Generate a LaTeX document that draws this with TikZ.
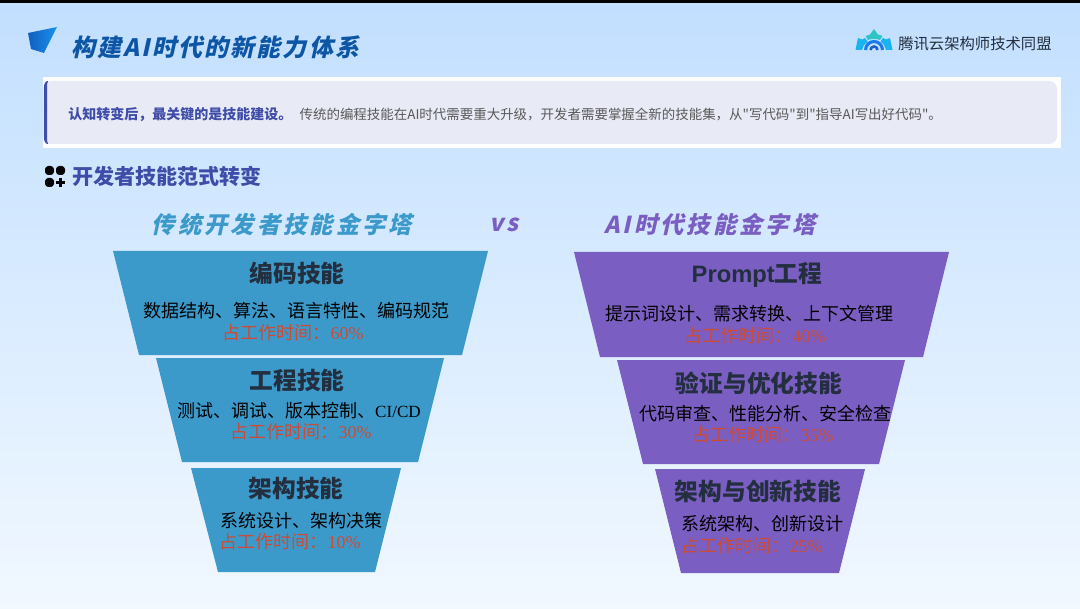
\documentclass[tikz,border=0pt]{standalone}
\usepackage{fontspec}
\setmainfont{Noto Sans CJK SC}
\newfontfamily\plainfont{Noto Sans CJK SC}
\newfontfamily\serifpart{Liberation Serif}
\newfontfamily\promptfont{Liberation Sans}
\newfontfamily\slantfont[FakeSlant=0.22,LetterSpace=9]{Noto Sans CJK SC}
\newfontfamily\slanttier[FakeSlant=0.22,LetterSpace=13]{Noto Sans CJK SC}
\usetikzlibrary{positioning,calc}
\definecolor{tierblue}{HTML}{3C9ACB}
\definecolor{tierpurple}{HTML}{7A5EC2}
\definecolor{headink}{HTML}{232F3F}
\definecolor{timered}{HTML}{CC4B35}
\definecolor{indigo}{HTML}{3F4CA8}
\definecolor{panelfill}{HTML}{E8EAF6}
\definecolor{titleblue}{HTML}{0D56A6}
\definecolor{pagetop}{HTML}{C2DFFF}
\definecolor{pagemid}{HTML}{C8E2FF}
\definecolor{pagelow}{HTML}{F1F8FF}
\definecolor{logoteal}{HTML}{2FC4C8}
\definecolor{logocyan}{HTML}{18B4F0}
\definecolor{logoblue}{HTML}{1A78F0}
\tikzset{
  tierhead/.style={font=\fontsize{17.8}{20}\selectfont\bfseries,text=headink,anchor=center,inner sep=0pt},
  tierbody/.style={font=\fontsize{13.5}{16}\selectfont,text=black,anchor=center,inner sep=0pt},
  tiertime/.style={font=\fontsize{13.5}{16}\selectfont,text=timered,anchor=center,inner sep=0pt},
  tiertitle/.style={font=\slanttier\fontsize{17.5}{20}\selectfont\bfseries,anchor=center,inner sep=0pt},
  logoarc/.style={draw=logoblue,line width=2.3pt}
}
\begin{document}
\begin{tikzpicture}[x=0.75pt,y=-0.75pt]
 \useasboundingbox (0,0) rectangle (1080,609);
 % page
 \shade[top color=pagetop,middle color=pagemid,bottom color=pagelow] (0,0) rectangle (1080,609);
 \fill[black] (0,0) rectangle (1080,3);
 % plane icon
 \shade[left color=titleblue!70!logoblue,right color=logoblue!60!logocyan] (28,33) -- (57,27) -- (44,53) -- (31,49) -- cycle;
 \node[anchor=west,inner sep=0pt,text=titleblue] (title) at (71,47) {\slantfont\fontsize{18}{22}\selectfont\bfseries 构建AI时代的新能力体系};
 % logo
 \fill[logocyan] (855.5,50) -- (858,38) -- (862,39.5) -- (865,38) -- (867.5,41.5) .. controls (864.5,43.5) and (862.5,46.5) .. (862,50) -- cycle;
 \fill[logocyan] (892.5,50) -- (890,38) -- (886,39.5) -- (883,38) -- (880.5,41.5) .. controls (883.5,43.5) and (885.5,46.5) .. (886,50) -- cycle;
 \fill[logoteal] (865.5,36) -- (870,34.5) -- (874,29) -- (878,34.5) -- (882.5,36) -- (880,40) .. controls (876.5,38.5) and (871.5,38.5) .. (868,40) -- cycle;
 \draw[logoarc] (865.5,50) arc (180:360:8.5);
 \draw[logoarc,line width=1.9pt,draw=logoblue!80!black] (870.5,50) arc (180:360:3.5);
 \node[anchor=west,inner sep=0pt,text=headink,font=\fontsize{11.5}{13}\selectfont] (logotext) at (898,43.5) {腾讯云架构师技术同盟};
 % intro panel
 \fill[white] (43,77) rectangle (1061,148);
 \fill[panelfill,rounded corners=6pt] (43,81) rectangle (1057,144);
 \fill[indigo] (48,81) .. controls (45,81) and (44,84) .. (44,88) -- (44,137) .. controls (44,141) and (45,144) .. (48,144) .. controls (47,142) and (47,140) .. (47,137) -- (47,88) .. controls (47,85) and (47,83) .. (48,81) -- cycle;
 \node[anchor=west,inner sep=0pt] (intro) at (68,115) {\textcolor{indigo}{\plainfont\fontsize{10.5}{12}\selectfont\bfseries 认知转变后，最关键的是技能建设。}\hspace{5.5pt}\textcolor{black!65}{\plainfont\fontsize{10.1}{12}\selectfont 传统的编程技能在AI时代需要重大升级，开发者需要掌握全新的技能集，从"写代码"到"指导AI写出好代码"。}};
 % section head
 \fill[black,rounded corners=2.5pt] (45,166) rectangle (54,175);
 \fill[black,rounded corners=2.5pt] (56,166) rectangle (65,175);
 \fill[black,rounded corners=2.5pt] (45,178) rectangle (54,187);
 \draw[black,line width=1.8pt] (60.5,178) -- (60.5,187) (56,182.5) -- (65,182.5);
 \node[anchor=west,inner sep=0pt,text=indigo,font=\fontsize{15.8}{18}\selectfont\bfseries] (section) at (72,176.5) {开发者技能范式转变};
 % pyramid titles
 \node[tiertitle,text=tierblue] (oldtitle) at (282,224.5) {传统开发者技能金字塔};
 \node[tiertitle,text=tierpurple] (vs) at (504,225) {vs};
 \node[tiertitle,text=tierpurple] (newtitle) at (710,224.5) {AI时代技能金字塔};
 % old pyramid
 \fill[tierblue] (113,251) -- (488,251) -- (462,355) -- (139,355) -- cycle;
 \fill[tierblue] (156,358) -- (444,358) -- (418,462) -- (182,462) -- cycle;
 \fill[tierblue] (191,468) -- (401,468) -- (375,572) -- (218,572) -- cycle;
 \node[tierhead] (codehead) at (297,273) {编码技能};
 \node[tierbody] (codebody) at (296,310.5) {数据结构、算法、语言特性、编码规范};
 \node[tiertime] (codetime) at (293,332.5) {占工作时间：{\serifpart 60\%}};
 \node[tierhead] (enghead) at (297,380.5) {工程技能};
 \node[tierbody] (engbody) at (299,410.5) {测试、调试、版本控制、{\serifpart\fontsize{12.8}{16}\selectfont CI/CD}};
 \node[tiertime] (engtime) at (301,432) {占工作时间：{\serifpart 30\%}};
 \node[tierhead] (archhead) at (296,488.5) {架构技能};
 \node[tierbody] (archbody) at (301,520.5) {系统设计、架构决策};
 \node[tiertime] (archtime) at (290,542) {占工作时间：{\serifpart 10\%}};
 % new pyramid
 \fill[tierpurple] (574,252) -- (949,252) -- (923,357) -- (600,357) -- cycle;
 \fill[tierpurple] (617,360) -- (905,360) -- (879,464) -- (643,464) -- cycle;
 \fill[tierpurple] (655,469) -- (865,469) -- (839,573) -- (681,573) -- cycle;
 \node[tierhead] (prompthead) at (757,275) {{\promptfont Prompt}工程};
 \node[tierbody] (promptbody) at (749,314) {提示词设计、需求转换、上下文管理};
 \node[tiertime] (prompttime) at (755,336) {占工作时间：{\serifpart 40\%}};
 \node[tierhead] (checkhead) at (759,383.5) {验证与优化技能};
 \node[tierbody] (checkbody) at (765,413.5) {代码审查、性能分析、安全检查};
 \node[tiertime] (checktime) at (763,435) {占工作时间：{\serifpart 35\%}};
 \node[tierhead] (newarchhead) at (758,491.5) {架构与创新技能};
 \node[tierbody] (newarchbody) at (762,524) {系统架构、创新设计};
 \node[tiertime] (newarchtime) at (752,545.5) {占工作时间：{\serifpart 25\%}};
\end{tikzpicture}
\end{document}
